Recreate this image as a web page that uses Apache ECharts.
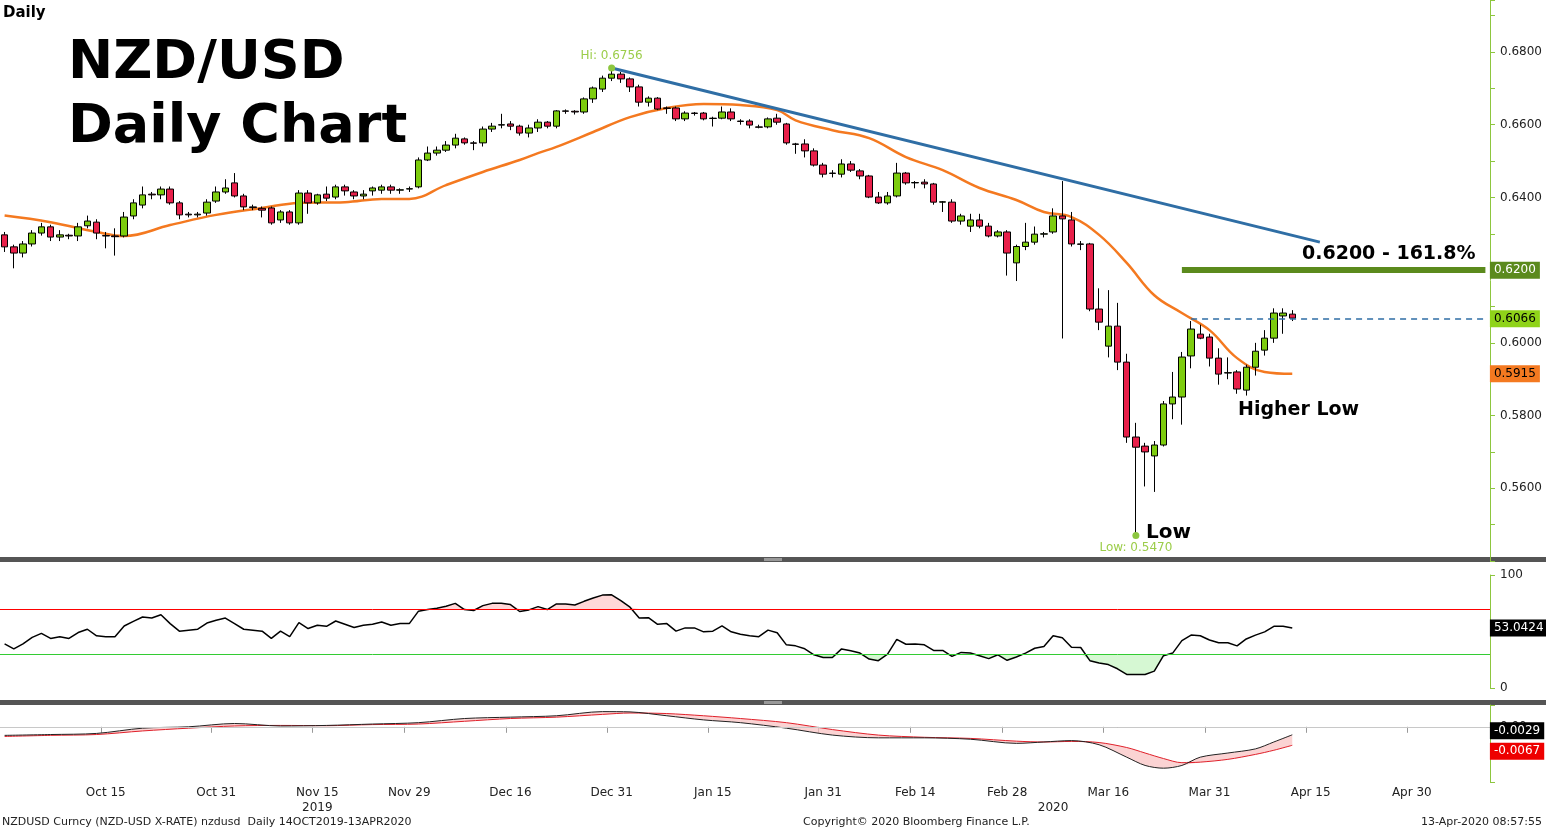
<!DOCTYPE html>
<html><head><meta charset="utf-8">
<script src="https://cdn.jsdelivr.net/npm/echarts@6/dist/echarts.min.js"></script>
<style>html,body{margin:0;padding:0;background:#fff}#c{width:1546px;height:832px}</style>
</head><body><div id="c"></div>
<script>
// ---------- DATA ----------
const START_DATE = '2019-09-30';
const N_CATS = 162;
const tickDates = ['Oct 15','Oct 31','Nov 15','Nov 29','Dec 16','Dec 31','Jan 15','Jan 31','Feb 14','Feb 28','Mar 16','Mar 31','Apr 15','Apr 30'];
const yearLabels = {'Nov 15':'2019','Mar 06':'2020'};
const priceTicks = [0.56,0.58,0.60,0.64,0.66,0.68];

const opens = [.6297,.6264,.6247,.6272,.6302,.6319,.6291,.6296,.6294,.6322,
.6332,.6295,.6294,.6294,.6349,.6379,.6409,.6407,.6423,.6385,
.6354,.6352,.6357,.6390,.6415,.6440,.6404,.6374,.6370,.6371,
.6338,.6360,.6330,.6412,.6385,.6409,.6401,.6429,.6415,.6404,
.6418,.6420,.6429,.6420,.6423,.6429,.6503,.6522,.6530,.6544,
.6561,.6550,.6550,.6588,.6599,.6602,.6596,.6577,.6591,.6607,
.6596,.6638,.6637,.6635,.6671,.6698,.6728,.6739,.6726,.6704,
.6662,.6673,.6646,.6646,.6616,.6632,.6632,.6618,.6618,.6635,
.6610,.6610,.6594,.6594,.6618,.6602,.6547,.6547,.6528,.6489,
.6467,.6464,.6492,.6473,.6459,.6401,.6385,.6404,.6467,.6440,
.6442,.6437,.6387,.6387,.6335,.6321,.6338,.6321,.6294,.6305,
.6220,.6265,.6277,.6299,.6305,.6349,.6338,.6272,.6272,.6093,
.5991,.6046,.5947,.5741,.5716,.5689,.5719,.5832,.5851,.5964,
.6024,.6016,.5958,.5917,.5920,.5870,.5933,.5980,.6013,.6074,.6079];
const closes = [.6264,.6247,.6272,.6302,.6319,.6291,.6297,.6294,.6319,.6335,
.6302,.6294,.6292,.6346,.6385,.6407,.6407,.6423,.6385,.6352,
.6352,.6354,.6387,.6415,.6426,.6404,.6374,.6372,.6365,.6330,
.6360,.6330,.6412,.6385,.6407,.6398,.6429,.6418,.6404,.6409,
.6426,.6429,.6420,.6421,.6424,.6503,.6522,.6530,.6544,.6563,
.6550,.6549,.6588,.6596,.6600,.6596,.6577,.6591,.6607,.6596,
.6638,.6637,.6635,.6671,.6701,.6728,.6739,.6726,.6704,.6662,
.6673,.6643,.6645,.6616,.6632,.6631,.6616,.6617,.6635,.6616,
.6609,.6599,.6593,.6616,.6607,.6550,.6546,.6528,.6489,.6464,
.6466,.6492,.6475,.6459,.6401,.6385,.6404,.6467,.6440,.6441,
.6437,.6387,.6388,.6335,.6349,.6338,.6321,.6294,.6305,.6247,
.6265,.6277,.6299,.6300,.6349,.6341,.6272,.6271,.6093,.6057,
.6046,.5947,.5741,.5713,.5700,.5719,.5832,.5851,.5961,.6038,
.6013,.5958,.5914,.5918,.5873,.5933,.5977,.6013,.6082,.6082,.6068];
const lows = [.6250,.6205,.6235,.6265,.6295,.6280,.6280,.6285,.6280,.6315,
.6285,.6260,.6240,.6290,.6340,.6370,.6395,.6395,.6380,.6340,
.6345,.6345,.6350,.6385,.6410,.6400,.6365,.6365,.6345,.6325,
.6330,.6325,.6325,.6355,.6380,.6390,.6395,.6405,.6395,.6395,
.6405,.6410,.6410,.6410,.6415,.6425,.6500,.6515,.6525,.6535,
.6545,.6530,.6540,.6580,.6590,.6585,.6570,.6565,.6580,.6590,
.6590,.6630,.6628,.6630,.6660,.6690,.6720,.6715,.6690,.6650,
.6650,.6640,.6630,.6610,.6610,.6625,.6612,.6595,.6615,.6610,
.6600,.6590,.6590,.6590,.6600,.6545,.6520,.6510,.6485,.6455,
.6455,.6455,.6470,.6450,.6398,.6382,.6380,.6400,.6435,.6425,
.6425,.6380,.6360,.6330,.6325,.6305,.6315,.6290,.6290,.6185,
.6170,.6255,.6270,.6290,.6300,.6012,.6265,.6255,.6087,.6035,
.5960,.5925,.5725,.5470,.5605,.5590,.5715,.5790,.5775,.5930,
.6010,.5935,.5885,.5900,.5860,.5855,.5910,.5965,.6000,.6025,.6060];
const highs = [.6305,.6270,.6280,.6310,.6330,.6325,.6310,.6300,.6330,.6350,
.6340,.6305,.6315,.6360,.6395,.6430,.6415,.6430,.6430,.6390,
.6360,.6360,.6395,.6430,.6450,.6467,.6410,.6380,.6375,.6375,
.6365,.6365,.6420,.6420,.6410,.6430,.6435,.6435,.6420,.6420,
.6430,.6435,.6435,.6425,.6430,.6510,.6540,.6540,.6555,.6575,
.6565,.6555,.6595,.6605,.6630,.6610,.6600,.6600,.6615,.6610,
.6640,.6642,.6640,.6675,.6705,.6735,.6756,.6745,.6730,.6710,
.6678,.6676,.6650,.6650,.6637,.6635,.6635,.6622,.6650,.6645,
.6615,.6615,.6600,.6620,.6630,.6605,.6550,.6560,.6535,.6495,
.6475,.6505,.6500,.6478,.6462,.6415,.6415,.6495,.6470,.6445,
.6450,.6440,.6390,.6395,.6355,.6355,.6355,.6330,.6310,.6310,
.6270,.6330,.6320,.6305,.6370,.6445,.6360,.6280,.6275,.6150,
.6145,.6110,.5970,.5780,.5725,.5730,.5840,.5920,.5975,.6060,
.6050,.6025,.5985,.5960,.5925,.5940,.6000,.6035,.6095,.6095,.6090];

// moving average: [index, value]
const maPoints = [[0,.6350],[5,.6332],[10,.6305],[13,.6294],[18,.6324],[23,.6352],[28,.6371],[32,.6385],[37,.6387],[41,.6396],[44,.6396],[48,.6434],[52,.6470],[56,.6503],[58,.6522],[60,.6539],[64,.6580],[68,.6621],[72,.6646],[76,.6657],[80,.6654],[84,.6640],[86,.6612],[90,.6585],[94,.6563],[98,.6511],[102,.6475],[106,.6426],[110,.6393],[113,.6360],[116,.6346],[119,.6297],[122,.6220],[125,.6131],[128,.6082],[131,.6035],[134,.5958],[137,.5920],[140,.5915]];

// RSI: [index, value]
const rsiPoints = [[0,39.0],[1,34.6],[2,39.0],[3,44.8],[4,48.3],[5,43.9],[6,45.4],[7,43.9],[8,49.1],[9,52.0],[10,46.2],[11,45.4],[12,45.4],[13,54.9],[14,59.0],[15,62.8],[16,61.9],[17,64.8],[18,57.0],[19,50.3],[21,52.0],[22,57.5],[23,59.9],[24,61.9],[25,57.0],[26,52.0],[28,50.3],[29,43.9],[30,50.3],[31,45.4],[32,57.8],[33,52.6],[34,55.5],[35,54.6],[36,59.3],[37,56.4],[38,53.5],[39,55.5],[40,56.4],[41,58.4],[42,55.5],[43,57.0],[44,57.0],[45,68.0],[46,69.4],[47,70.6],[48,72.3],[49,74.9],[50,69.4],[51,68.6],[52,72.9],[53,74.9],[54,74.9],[55,73.8],[56,67.7],[57,69.1],[58,72.0],[59,69.4],[60,74.4],[61,74.4],[62,73.5],[63,76.7],[64,79.6],[65,82.2],[66,82.5],[67,77.3],[68,71.5],[69,61.9],[70,62.2],[71,56.4],[72,57.0],[73,50.3],[74,53.2],[75,53.2],[76,49.7],[77,50.3],[78,54.9],[79,49.7],[80,47.6],[81,46.2],[82,45.4],[83,51.2],[84,48.9],[85,38.2],[86,37.3],[87,34.7],[88,29.4],[89,27.0],[90,27.0],[91,34.6],[92,32.9],[93,30.9],[94,25.6],[95,24.2],[96,30.0],[97,43.1],[98,38.7],[99,39.0],[100,38.2],[101,33.2],[102,33.2],[103,28.0],[104,31.5],[105,30.9],[106,28.6],[107,26.0],[108,29.4],[109,24.5],[110,27.4],[111,30.9],[112,35.2],[113,36.7],[114,46.2],[115,44.5],[116,36.1],[117,35.8],[118,24.2],[119,22.2],[120,20.7],[121,17.0],[122,12.0],[123,12.0],[124,12.0],[125,14.9],[126,28.6],[127,30.9],[128,41.9],[129,46.8],[130,46.2],[131,42.5],[132,40.1],[133,40.1],[134,37.3],[135,43.4],[136,46.8],[137,49.7],[138,54.6],[139,54.6],[140,53.0424]];
const rsiBands = [70, 30];

// MACD: index, macd, signal
const macdIdx = [0,5,10,15,20,25,30,35,40,45,50,55,60,65,68,72,76,80,85,90,95,100,105,110,113,116,119,122,124,126,128,130,133,136,138,140];
const macdVal = [-.0031,-.0028,-.0024,-.0005,.0000,.0012,.0003,.0005,.0010,.0015,.0030,.0035,.0040,.0055,.0054,.0040,.0025,.0015,-.0005,-.0030,-.0040,-.0040,-.0045,-.0060,-.0055,-.0050,-.0065,-.0110,-.0140,-.0150,-.0140,-.0110,-.0095,-.0080,-.0055,-.0029];
const signalVal = [-.0035,-.0031,-.0028,-.0015,-.0005,.0003,.0005,.0004,.0008,.0010,.0020,.0030,.0035,.0045,.0050,.0048,.0040,.0030,.0015,-.0010,-.0030,-.0038,-.0042,-.0052,-.0055,-.0053,-.0057,-.0075,-.0095,-.0115,-.0130,-.0128,-.0118,-.0100,-.0085,-.0067];

const hiIdx = 66, hiVal = 0.6756, lowIdx = 123, lowVal = 0.5470;
const trendLine = [[66,0.6756],[143,0.6277]];
const fibLevel = 0.6200, fibStart = 128;
const lastLevel = 0.6066, lastStart = 129;
const maLast = 0.5915, rsiLast = 53.0424, macdLast = -0.0029, sigLast = -0.0067;

// ---------- BUILD ----------
const MON = ['Jan','Feb','Mar','Apr','May','Jun','Jul','Aug','Sep','Oct','Nov','Dec'];
const cats = [];
{ let d = new Date(START_DATE + 'T00:00:00Z');
  while (cats.length < N_CATS) { const w = d.getUTCDay();
    if (w !== 0 && w !== 6) cats.push(MON[d.getUTCMonth()] + ' ' + String(d.getUTCDate()).padStart(2,'0'));
    d.setUTCDate(d.getUTCDate() + 1); } }
const norm = s => s.replace(/ 0(\d)$/, ' $1');
const candles = opens.map((o,i)=>[o, closes[i], lows[i], highs[i]]);
const rsiHi = rsiPoints.map(p=>[p[0], Math.max(p[1],rsiBands[0])]);
const rsiLo = rsiPoints.map(p=>[p[0], Math.min(p[1],rsiBands[1])]);
const macdLine = macdIdx.map((x,k)=>[x, macdVal[k]]);
const sigLine = macdIdx.map((x,k)=>[x, signalVal[k]]);
const fillBase = macdIdx.map((x,k)=>[x, Math.min(macdVal[k], signalVal[k])]);
const fillDiff = macdIdx.map((x,k)=>[x, Math.abs(macdVal[k]-signalVal[k])]);

const FONT = 'Tahoma, "DejaVu Sans", sans-serif';
const L = 0, W = 1490;
const HIDDEN = {width:0, opacity:0};
const box = (bg, fg) => ({show:true, position:'right', distance:4, backgroundColor:bg, color:fg, padding:[3,4,2,4], fontSize:12, fontFamily:FONT});
const isTick = (i,v) => tickDates.includes(norm(v));
const isLbl = (i,v) => tickDates.includes(norm(v)) || yearLabels[v] !== undefined;

const xBase = (gi, showLabel) => ({
  type:'category', gridIndex:gi, data:cats, boundaryGap:true,
  axisLine:{show:showLabel, lineStyle:{color:'#999'}},
  axisTick:{show:showLabel, interval:isTick, length:6, lineStyle:{color:'#999'}},
  axisLabel:{show:showLabel, interval:isLbl, color:'#222', fontSize:12, fontFamily:FONT, lineHeight:15, margin:3,
    formatter:(v)=> yearLabels[v]!==undefined && !tickDates.includes(norm(v)) ? '\n'+yearLabels[v] : (yearLabels[v] ? norm(v)+'\n'+yearLabels[v] : norm(v))},
  splitLine:{show:false}
});
const rightAxis = {axisLine:{show:true, lineStyle:{color:'#8dc63f', width:1}}, axisTick:{show:true, length:5, lineStyle:{color:'#8dc63f'}}, splitLine:{show:false}};

const chart = echarts.init(document.getElementById('c'));
chart.setOption({
  animation:false, backgroundColor:'#fff',
  grid:[
    {left:L, width:W, top:0, height:561},
    {left:L, width:W, top:575, height:113},
    {left:L, width:W, top:705, height:77}
  ],
  xAxis:[ xBase(0,false), xBase(1,false), xBase(2,true) ],
  yAxis:[
    Object.assign({type:'value', gridIndex:0, position:'right', min:0.54, max:0.6943, interval:0.01,
      axisLabel:{color:'#222', fontSize:12, fontFamily:FONT, margin:10,
        formatter:v=> priceTicks.some(t=>Math.abs(t-v)<1e-6) ? v.toFixed(4) : ''}}, rightAxis),
    Object.assign({type:'value', gridIndex:1, position:'right', min:0, max:100, interval:100,
      axisLabel:{color:'#222', fontSize:12, fontFamily:FONT, margin:10}}, rightAxis),
    Object.assign({type:'value', gridIndex:2, position:'right', min:-0.02, max:0.0079, interval:0.01,
      axisLabel:{color:'#222', fontSize:12, fontFamily:FONT, margin:10, formatter:v=> (v>0.005||v<-0.015)?'':v.toFixed(2)}}, rightAxis)
  ],
  series:[
    {type:'candlestick', xAxisIndex:0, yAxisIndex:0, data:candles, barWidth:7,
      itemStyle:{color:'#7dcc0e', color0:'#e8204a', borderColor:'#000', borderColor0:'#000', borderWidth:1},
      markPoint:{silent:true, data:[
        {coord:[hiIdx,hiVal], symbol:'circle', symbolSize:7, itemStyle:{color:'#8cc63f'},
          label:{show:true, position:'top', distance:3, formatter:'Hi: 0.6756', color:'#9ccd4a', fontSize:12, fontFamily:FONT}},
        {coord:[lowIdx,lowVal], symbol:'circle', symbolSize:7, itemStyle:{color:'#8cc63f'},
          label:{show:true, position:'bottom', distance:3, formatter:'Low: 0.5470', color:'#9ccd4a', fontSize:12, fontFamily:FONT}},
        {coord:[161,fibLevel], symbol:'rect', symbolSize:1, itemStyle:{color:'transparent'}, label:Object.assign(box('#5b8a1d','#fff'),{formatter:'0.6200'})},
        {coord:[161,lastLevel], symbol:'rect', symbolSize:1, itemStyle:{color:'transparent'}, label:Object.assign(box('#8fd319','#000'),{formatter:'0.6066'})},
        {coord:[161,maLast], symbol:'rect', symbolSize:1, itemStyle:{color:'transparent'}, label:Object.assign(box('#f47920','#000'),{formatter:'0.5915'})}
      ]},
      markLine:{silent:true, symbol:'none', label:{show:false}, data:[
        [{coord:trendLine[0], lineStyle:{color:'#2f6ea5', width:3, type:'solid'}},{coord:trendLine[1]}],
        [{coord:[fibStart,fibLevel], lineStyle:{color:'#5b8a1d', width:6, type:'solid'}},{coord:[161,fibLevel]}],
        [{coord:[lastStart,lastLevel], lineStyle:{color:'#2f6ea5', width:1.5, type:[6,5]}},{coord:[161,lastLevel]}]
      ]}
    },
    {type:'line', xAxisIndex:0, yAxisIndex:0, data:maPoints, smooth:0.4, showSymbol:false, lineStyle:{color:'#f47920', width:2.5}, z:1},
    // RSI
    {type:'line', xAxisIndex:1, yAxisIndex:1, data:rsiHi, showSymbol:false, lineStyle:HIDDEN, areaStyle:{origin:rsiBands[0], color:'#ffc8c8'}, z:1},
    {type:'line', xAxisIndex:1, yAxisIndex:1, data:rsiLo, showSymbol:false, lineStyle:HIDDEN, areaStyle:{origin:rsiBands[1], color:'#c4f5c0'}, z:1},
    {type:'line', xAxisIndex:1, yAxisIndex:1, data:[], color:'#ff0000', z:2,
      markLine:{silent:true, symbol:'none', label:{show:false}, lineStyle:{color:'#ff0000', width:1, type:'solid'}, data:[{yAxis:rsiBands[0]}]}},
    {type:'line', xAxisIndex:1, yAxisIndex:1, data:[], color:'#33cc33', z:2,
      markLine:{silent:true, symbol:'none', label:{show:false}, lineStyle:{color:'#33cc33', width:1, type:'solid'}, data:[{yAxis:rsiBands[1]}]}},
    {type:'line', xAxisIndex:1, yAxisIndex:1, data:rsiPoints, showSymbol:false, lineStyle:{color:'#000', width:1.5}, z:3,
      markPoint:{silent:true, data:[{coord:[161,rsiLast], symbol:'rect', symbolSize:1, itemStyle:{color:'transparent'}, label:Object.assign(box('#000','#fff'),{formatter:'53.0424'})}]}
    },
    // MACD
    {type:'line', xAxisIndex:2, yAxisIndex:2, data:fillBase, stack:'f', stackStrategy:'all', smooth:0.3, showSymbol:false, lineStyle:HIDDEN, z:1},
    {type:'line', xAxisIndex:2, yAxisIndex:2, data:fillDiff, stack:'f', stackStrategy:'all', smooth:0.3, showSymbol:false, lineStyle:HIDDEN, areaStyle:{color:'#f9c0c0', origin:'start'}, z:1},
    {type:'line', xAxisIndex:2, yAxisIndex:2, data:sigLine, smooth:0.3, showSymbol:false, lineStyle:{color:'#e0202a', width:1}, z:3,
      markLine:{silent:true, symbol:'none', label:{show:false}, data:[{yAxis:0, lineStyle:{color:'#c8c8c8', width:1, type:'solid'}}]},
      markPoint:{silent:true, data:[{coord:[161,sigLast], symbol:'rect', symbolSize:1, itemStyle:{color:'transparent'}, label:Object.assign(box('#ee0000','#fff'),{formatter:'-0.0067', offset:[0,6]})}]}},
    {type:'line', xAxisIndex:2, yAxisIndex:2, data:macdLine, smooth:0.3, showSymbol:false, lineStyle:{color:'#222', width:1}, z:4,
      markPoint:{silent:true, data:[{coord:[161,macdLast], symbol:'rect', symbolSize:1, itemStyle:{color:'transparent'}, label:Object.assign(box('#000','#fff'),{formatter:'-0.0029', offset:[0,-4]})}]}}
  ],
  graphic:[
    {type:'rect', shape:{x:0,y:557,width:1546,height:5}, style:{fill:'#555'}},
    {type:'rect', shape:{x:0,y:700,width:1546,height:5}, style:{fill:'#555'}},
    {type:'rect', shape:{x:764,y:558,width:18,height:3}, style:{fill:'#999'}},
    {type:'rect', shape:{x:764,y:701,width:18,height:3}, style:{fill:'#999'}},
    {type:'text', left:3, top:6, style:{text:'Daily', font:'bold 15px '+FONT, fill:'#000'}},
    {type:'text', left:68, top:32, style:{text:'NZD/USD\nDaily Chart', font:'bold 54px "DejaVu Sans", Verdana, sans-serif', lineHeight:64, fill:'#000'}},
    {type:'text', left:1146, top:523, style:{text:'Low', font:'bold 20px "DejaVu Sans", sans-serif', fill:'#000'}},
    {type:'text', left:1238, top:401, style:{text:'Higher Low', font:'bold 19px "DejaVu Sans", sans-serif', fill:'#000'}},
    {type:'text', left:1302, top:245, style:{text:'0.6200 - 161.8%', font:'bold 19px "DejaVu Sans", sans-serif', fill:'#000'}},
    {type:'text', left:2, top:817, style:{text:'NZDUSD Curncy (NZD-USD X-RATE) nzdusd  Daily 14OCT2019-13APR2020', font:'11px '+FONT, fill:'#222'}},
    {type:'text', left:803, top:817, style:{text:'Copyright© 2020 Bloomberg Finance L.P.', font:'11px '+FONT, fill:'#222'}},
    {type:'text', right:4, top:817, style:{text:'13-Apr-2020 08:57:55', font:'11px '+FONT, fill:'#222'}}
  ]
});
</script></body></html>
